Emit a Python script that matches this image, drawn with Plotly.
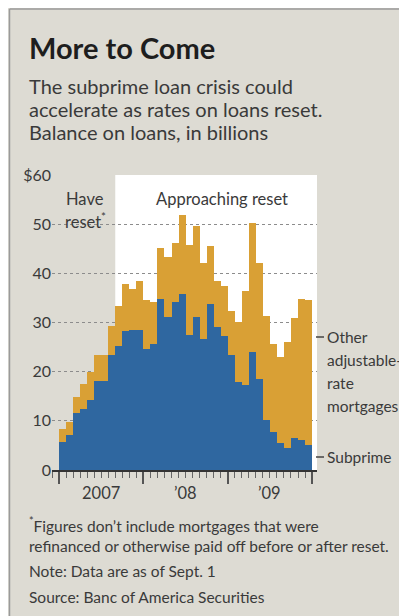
import plotly.graph_objects as go

# ---------------- data ----------------
months = [
    "Jan 2007", "Feb 2007", "Mar 2007", "Apr 2007", "May 2007", "Jun 2007",
    "Jul 2007", "Aug 2007", "Sep 2007", "Oct 2007", "Nov 2007", "Dec 2007",
    "Jan 2008", "Feb 2008", "Mar 2008", "Apr 2008", "May 2008", "Jun 2008",
    "Jul 2008", "Aug 2008", "Sep 2008", "Oct 2008", "Nov 2008", "Dec 2008",
    "Jan 2009", "Feb 2009", "Mar 2009", "Apr 2009", "May 2009", "Jun 2009",
    "Jul 2009", "Aug 2009", "Sep 2009", "Oct 2009", "Nov 2009", "Dec 2009",
]
subprime = [5.7, 7.1, 11.5, 12.4, 14.2, 18.2, 18.2, 23.3, 25.3, 28.2, 28.4, 28.4,
            24.7, 25.7, 34.8, 31.1, 34.1, 35.8, 27.4, 31.1, 26.7, 33.8, 29.1, 27.3,
            23.3, 17.9, 17.2, 24.0, 18.6, 10.1, 7.8, 5.4, 4.4, 6.6, 6.2, 5.0]
other_arm = [2.7, 2.6, 3.4, 5.0, 5.7, 5.1, 5.1, 5.9, 8.1, 9.6, 8.4, 10.1,
             9.8, 8.5, 10.3, 12.3, 12.0, 16.0, 18.3, 18.6, 15.5, 11.7, 9.3, 10.2,
             9.1, 12.2, 19.3, 26.3, 23.6, 21.2, 17.9, 17.6, 21.6, 24.3, 28.6, 29.5]
months_reset = 8  # Jan-Aug 2007 have reset (data as of Sept. 1)
year_labels = ["2007", "\u201908", "\u201909"]
y_tick_vals = [0, 10, 20, 30, 40, 50, 60]
y_tick_text = ["0", "10", "20", "30", "40", "50", "$60"]

# ---------------- style ----------------
OFF = 8                     # browser body margin
W, H = 407 - OFF, 616 - OFF  # figure size
L, R, T, B = 52, 317, 175, 470   # plot area in page pixels
BG = "#dddbd3"
BLUE = "#2f67a0"
GOLD = "#d9a035"
TXT = "#3a3a3a"
FONT = "Lato"


def px(xp):
    return (xp - L) / (R - L)


def py(yp):
    return (B - yp) / (B - T)


x = list(range(len(months)))

fig = go.Figure()
fig.add_bar(x=x, y=subprime, name="Subprime", marker=dict(color=BLUE, line=dict(width=0)),
            hovertext=months)
fig.add_bar(x=x, y=other_arm, name="Other adjustable-rate mortgages",
            marker=dict(color=GOLD, line=dict(width=0)), hovertext=months)

n = len(months)
x_end = n - 0.5 + 0.7
fig.update_layout(
    width=W, height=H,
    margin=dict(l=L - OFF, r=W - (R - OFF), t=T - OFF, b=H - (B - OFF), pad=0),
    paper_bgcolor=BG, plot_bgcolor=BG,
    barmode="stack", bargap=0,
    showlegend=False,
    font=dict(family=FONT, color=TXT, size=16),
)
fig.update_xaxes(
    range=[-1.5, x_end], showgrid=False, zeroline=False,
    showline=True, linecolor="#333333", linewidth=1.5,
    tickmode="linear", tick0=-0.5, dtick=12,
    ticks="outside", ticklen=12, tickwidth=1.5, tickcolor="#555555",
    showticklabels=False,
    minor=dict(tick0=-0.5, dtick=1, ticks="outside", ticklen=6, tickwidth=1,
               tickcolor="#666666", showgrid=False),
)
fig.update_yaxes(
    range=[0, 60], tickvals=y_tick_vals, ticktext=y_tick_text,
    showgrid=True, gridcolor="#8c8c8c", griddash="dot", gridwidth=1,
    zeroline=False, showline=False, ticks="",
    tickfont=dict(family=FONT, size=16, color=TXT),
)

shapes = []
# white "approaching reset" panel
shapes.append(dict(type="rect", xref="x", yref="y", x0=months_reset - 0.5, x1=x_end,
                   y0=0, y1=60, fillcolor="white", line=dict(width=0), layer="below"))
# frame lines (top and left)
shapes.append(dict(type="line", xref="paper", yref="paper", x0=px(9.5), x1=px(9.5),
                   y0=py(9), y1=py(620), line=dict(color="#9a9a9a", width=1.5)))
shapes.append(dict(type="line", xref="paper", yref="paper", x0=px(9.5), x1=px(410),
                   y0=py(9), y1=py(9), line=dict(color="#9a9a9a", width=1.5)))
# label connectors
for yp in (337, 457):
    shapes.append(dict(type="line", xref="paper", yref="paper", x0=px(316), x1=px(324),
                       y0=py(yp), y1=py(yp), line=dict(color="#444444", width=1.5)))
fig.update_layout(shapes=shapes)

ann = []


def text(s, xp, yp, size=16, color=TXT, bold=False):
    if bold:
        s = "<b>" + s + "</b>"
    ann.append(dict(text=s, x=px(xp), y=py(yp), xref="paper", yref="paper",
                    xanchor="left", yanchor="middle", showarrow=False,
                    font=dict(family=FONT, size=size, color=color)))


text("More to Come", 27, 47, size=29, color="#1e1e1e", bold=True)
text("The subprime loan crisis could", 27, 86, size=20)
text("accelerate as rates on loans reset.", 27, 109, size=20)
text("Balance on loans, in billions", 27, 132, size=20)

text("Have", 64, 199, size=16.5)
text("reset<sup>*</sup>", 63, 221, size=16.5)
text("Approaching reset", 154, 199, size=16.5)

text("Other", 325, 337, size=15.5)
text("adjustable-", 325, 360, size=15.5)
text("rate", 325, 383, size=15.5)
text("mortgages", 325, 406, size=15.5)
text("Subprime", 325, 457, size=15.5)

for i, lab in enumerate(year_labels):
    ann.append(dict(text=lab, x=i * 12 + 5.5, y=py(493), xref="x", yref="paper",
                    xanchor="center", yanchor="middle", showarrow=False,
                    font=dict(family=FONT, size=16.5, color=TXT)))

text("<sup>*</sup>Figures don\u2019t include mortgages that were", 27, 524, size=15.5)
text("refinanced or otherwise paid off before or after reset.", 27, 546, size=15.5)
text("Note: Data are as of Sept. 1", 27, 571, size=15.5)
text("Source: Banc of America Securities", 27, 597, size=15.5)

fig.update_layout(annotations=ann)
fig.write_html("out.html")
